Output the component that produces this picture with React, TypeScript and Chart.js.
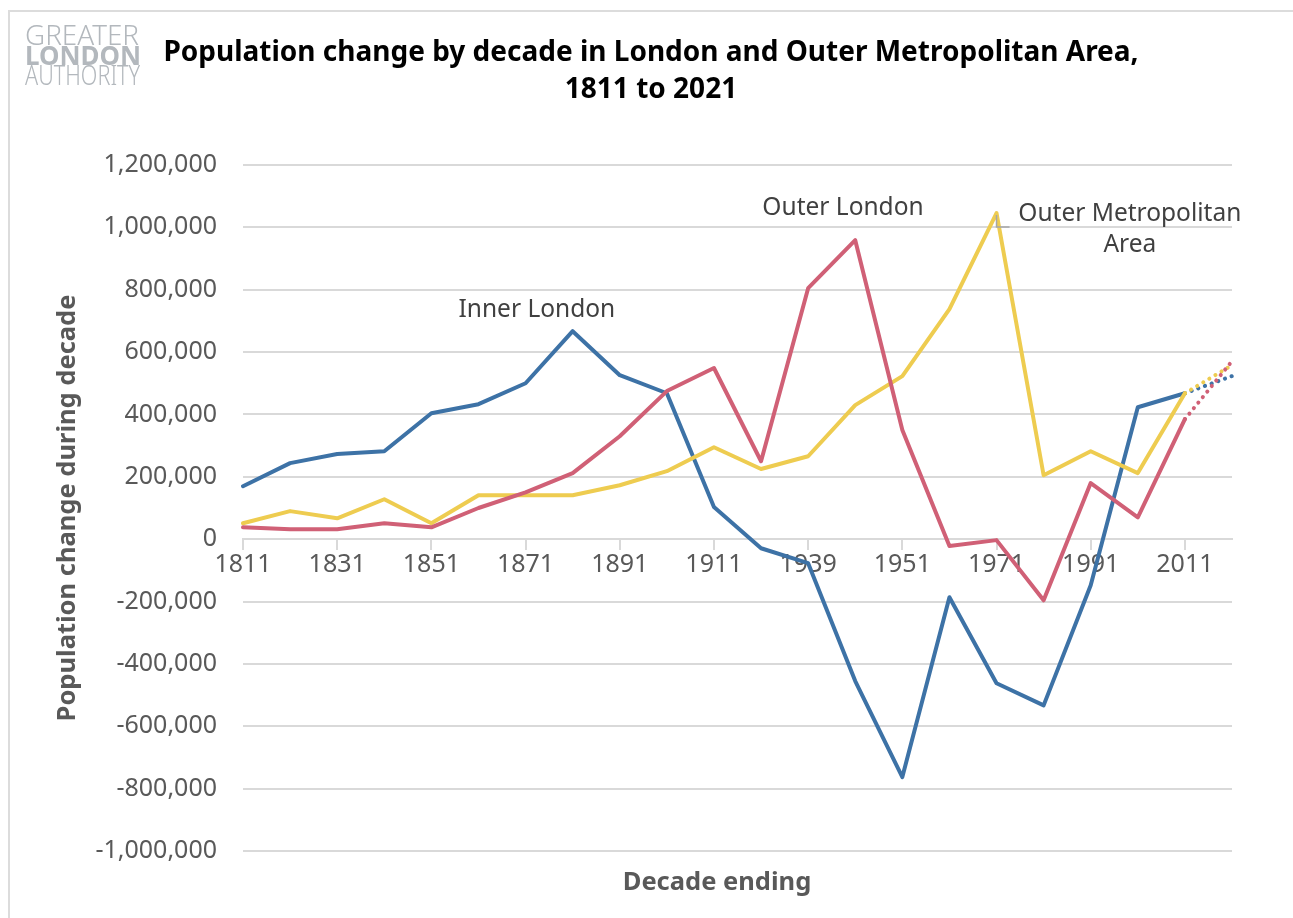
import React, { useEffect, useRef } from 'react';
import { Chart, registerables } from 'chart.js';

Chart.register(...registerables);

const categories = ['1811', '1821', '1831', '1841', '1851', '1861', '1871', '1881', '1891', '1901', '1911', '1921', '1939', '1941', '1951', '1961', '1971', '1981', '1991', '2001', '2011', '2021'];

const innerLondon = [170000, 244000, 273000, 282000, 404000, 433000, 500000, 667000, 526000, 468000, 103000, -29000, -77000, -455000, -763000, -186000, -462000, -533000, -148000, 423000, 468000, 523000];
const outerLondon = [38000, 32000, 32000, 51000, 38000, 100000, 150000, 212000, 330000, 475000, 549000, 250000, 805000, 959000, 350000, -22000, -3000, -196000, 180000, 70000, 385000, 571000];
const outerMetro = [51000, 90000, 67000, 128000, 51000, 141000, 141000, 141000, 173000, 218000, 295000, 225000, 266000, 430000, 523000, 738000, 1046000, 205000, 282000, 212000, 468000, 558000];

const yMin = -1000000;
const yMax = 1200000;
const yStep = 200000;

const seriesNames = ['Inner London', 'Outer London', 'Outer Metropolitan Area'];

// label anchors in data space (category index, value)
const annotations = [
  { lines: ['Inner London'], index: 6.24, value: 735000 },
  { lines: ['Outer London'], index: 12.74, value: 1062000 },
  { lines: ['Outer Metropolitan', 'Area'], index: 18.83, value: 1043000 },
];

const BLUE = '#3d72a6';
const RED = '#d06076';
const YELLOW = '#eecc50';
const GRID = '#d9d9d9';
const TEXT = '#595959';
const FONT = "'Noto Sans', 'Open Sans', sans-serif";

const annotationPlugin = {
  id: 'annots',
  afterDatasetsDraw(chart: any) {
    const { ctx, scales } = chart;
    const x = scales.x;
    const y = scales.y;
    ctx.save();
    ctx.fillStyle = '#404040';
    ctx.font = `24.5px ${FONT}`;
    ctx.textAlign = 'center';
    ctx.textBaseline = 'middle';
    annotations.forEach((a) => {
      const px = x.getPixelForValue(a.index);
      const py = y.getPixelForValue(a.value);
      a.lines.forEach((l, i) => ctx.fillText(l, px, py + i * 31));
    });
    // leader line for Outer Metropolitan Area (from 1971 peak)
    const lx = x.getPixelForValue(16);
    const ly = y.getPixelForValue(outerMetro[16]);
    ctx.strokeStyle = '#a6a6a6';
    ctx.lineWidth = 1.5;
    ctx.beginPath();
    ctx.moveTo(lx, ly + 2);
    ctx.lineTo(lx, ly + 14);
    ctx.lineTo(lx + 13, ly + 14);
    ctx.stroke();
    ctx.restore();
  },
};

function dotted(lastIdx: number) {
  return {
    borderDash: (c: any) => (c.p1DataIndex === lastIdx ? [0.1, 7] : undefined),
  };
}

export default function App() {
  const ref = useRef<HTMLCanvasElement | null>(null);

  useEffect(() => {
    document.body.style.margin = '0';
    document.body.style.overflow = 'hidden';
    if (!ref.current) return;
    const last = categories.length - 1;
    const mk = (label: string, data: number[], color: string, order: number) => ({
      label,
      data,
      borderColor: color,
      backgroundColor: color,
      borderWidth: 4,
      borderCapStyle: 'round' as const,
      borderJoinStyle: 'round' as const,
      pointRadius: 0,
      tension: 0,
      order,
      segment: dotted(last),
    });
    const chart = new Chart(ref.current, {
      type: 'line',
      data: {
        labels: categories,
        datasets: [
          mk(seriesNames[0], innerLondon, BLUE, 2),
          mk(seriesNames[1], outerLondon, RED, 0),
          mk(seriesNames[2], outerMetro, YELLOW, 1),
        ],
      },
      options: {
        animation: false,
        responsive: false,
        layout: { padding: { top: 165, left: 0, right: 61, bottom: 67 } },
        plugins: {
          legend: { display: false },
          title: { display: false },
          tooltip: { enabled: false },
        },
        scales: {
          x: {
            type: 'category',
            position: { y: 0 } as any,
            offset: false,
            afterFit: (s: any) => {
              s.height = 40;
            },
            border: { display: true, color: GRID, width: 2 },
            grid: {
              drawOnChartArea: false,
              drawTicks: true,
              tickLength: 10,
              lineWidth: 2,
              color: (c: any) => (c.index % 2 === 0 ? GRID : 'rgba(0,0,0,0)'),
            },
            ticks: {
              autoSkip: false,
              maxRotation: 0,
              padding: 1,
              color: TEXT,
              font: { family: FONT, size: 25 },
              callback: (_v: any, i: number) => (i % 2 === 0 ? categories[i] : ''),
            },
          },
          y: {
            min: yMin,
            max: yMax,
            afterFit: (s: any) => {
              s.width = 243;
            },
            border: { display: false },
            grid: { color: GRID, lineWidth: 2, drawTicks: false },
            ticks: {
              stepSize: yStep,
              padding: 26,
              color: TEXT,
              font: { family: FONT, size: 25 },
              callback: (v: any) => Number(v).toLocaleString('en-US'),
            },
            title: {
              display: true,
              text: 'Population change during decade',
              color: TEXT,
              font: { family: FONT, size: 25.5, weight: 'bold' },
              padding: { top: 52, bottom: 0 },
            },
          },
        },
      },
      plugins: [annotationPlugin],
    });
    return () => chart.destroy();
  }, []);

  const logoStyle: React.CSSProperties = {
    position: 'absolute',
    left: 25,
    color: '#b3b8bd',
    fontFamily: FONT,
    fontSize: 27,
    lineHeight: '20px',
    whiteSpace: 'nowrap',
    transformOrigin: 'left center',
  };

  return (
    <div style={{ position: 'relative', width: 1293, height: 918, background: '#fff', overflow: 'hidden' }}>
      <div
        style={{
          position: 'absolute',
          left: 8,
          top: 10,
          width: 1300,
          height: 920,
          borderTop: '2px solid #dcdcdc',
          borderLeft: '2px solid #dcdcdc',
        }}
      />
      <canvas ref={ref} width={1293} height={918} style={{ position: 'absolute', left: 0, top: 0 }} />
      <div style={{ ...logoStyle, top: 25, fontWeight: 300, transform: 'scaleX(1.03)' }}>GREATER</div>
      <div style={{ ...logoStyle, top: 45, fontWeight: 700, transform: 'scaleX(0.96)' }}>LONDON</div>
      <div style={{ ...logoStyle, top: 65, fontWeight: 300, transform: 'scaleX(0.8)' }}>AUTHORITY</div>
      <div
        style={{
          position: 'absolute',
          left: 651,
          top: 32,
          transform: 'translateX(-50%)',
          textAlign: 'center',
          fontFamily: FONT,
          fontWeight: 700,
          fontSize: 28,
          lineHeight: '37px',
          color: '#000',
          whiteSpace: 'nowrap',
        }}
      >
        Population change by decade in London and Outer Metropolitan Area,
        <br />
        1811 to 2021
      </div>
      <div
        style={{
          position: 'absolute',
          left: 717,
          top: 864,
          transform: 'translateX(-50%)',
          fontFamily: FONT,
          fontWeight: 700,
          fontSize: 25.5,
          lineHeight: '32px',
          color: TEXT,
          whiteSpace: 'nowrap',
        }}
      >
        Decade ending
      </div>
    </div>
  );
}
